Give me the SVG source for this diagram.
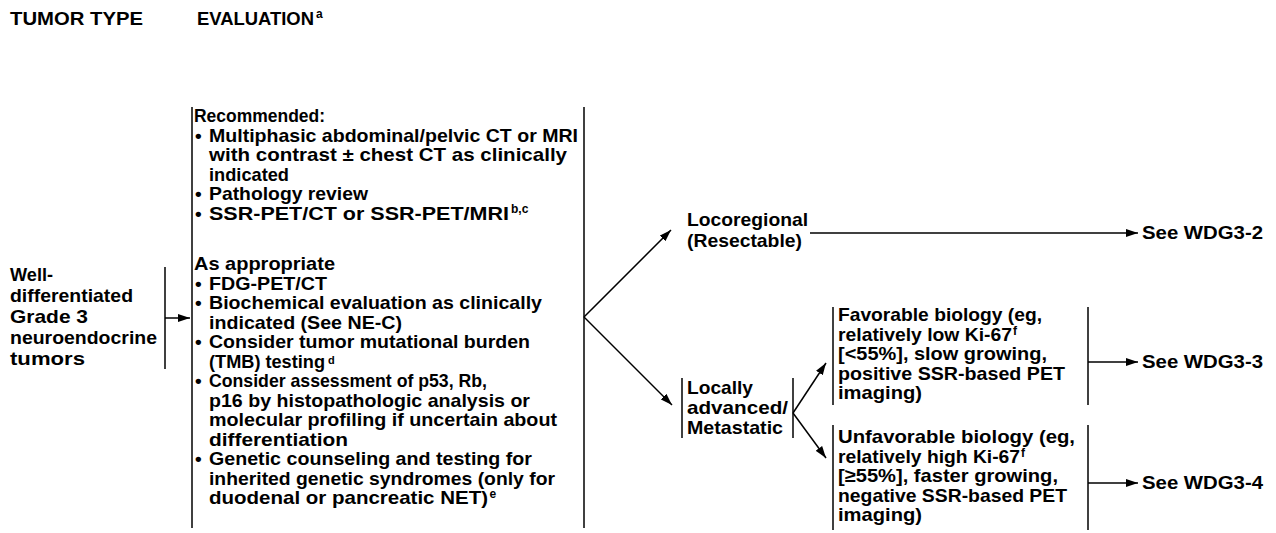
<svg xmlns="http://www.w3.org/2000/svg" width="1276" height="533" viewBox="0 0 1276 533">
<defs>
<marker id="ah" markerWidth="12" markerHeight="8" refX="12" refY="4" orient="auto" markerUnits="userSpaceOnUse">
<path d="M0,0 L12,4 L0,8 Z" fill="#000"/>
</marker>
<style>
text{font-family:"Liberation Sans",Arial,Helvetica,sans-serif;font-weight:bold;font-size:19px;fill:#000}
.hdr{font-size:18.5px}
.sup{font-size:12px}
.bar{stroke:#000;stroke-width:1.5;fill:none}
.con{stroke:#000;stroke-width:1.5;fill:none;marker-end:url(#ah)}
</style>
</defs>
<rect width="1276" height="533" fill="#fff"/>
<g id="headers">
<text class="hdr" x="10" y="25" textLength="133" lengthAdjust="spacingAndGlyphs">TUMOR TYPE</text>
<text class="hdr" x="197" y="25" textLength="117" lengthAdjust="spacingAndGlyphs">EVALUATION</text>
<text class="sup" x="316" y="18">a</text>
</g>
<g id="tumor">
<line class="bar" x1="165" y1="267" x2="165" y2="369"/>
<text x="10" y="281" textLength="43" lengthAdjust="spacingAndGlyphs">Well-</text>
<text x="10" y="302" textLength="123" lengthAdjust="spacingAndGlyphs">differentiated</text>
<text x="10" y="323" textLength="78" lengthAdjust="spacingAndGlyphs">Grade 3</text>
<text x="10" y="344" textLength="147" lengthAdjust="spacingAndGlyphs">neuroendocrine</text>
<text x="10" y="365" textLength="75" lengthAdjust="spacingAndGlyphs">tumors</text>
</g>
<g id="evaluation">
<line class="bar" x1="192" y1="107" x2="192" y2="528"/>
<line class="bar" x1="584" y1="107" x2="584" y2="528"/>
<text x="194" y="122" textLength="131" lengthAdjust="spacingAndGlyphs">Recommended:</text>
<text x="195" y="141.5">•</text><text x="209" y="141.5" textLength="369" lengthAdjust="spacingAndGlyphs">Multiphasic abdominal/pelvic CT or MRI</text>
<text x="209" y="161" textLength="358" lengthAdjust="spacingAndGlyphs">with contrast ± chest CT as clinically</text>
<text x="209" y="180.5" textLength="80" lengthAdjust="spacingAndGlyphs">indicated</text>
<text x="195" y="200">•</text><text x="209" y="200" textLength="159" lengthAdjust="spacingAndGlyphs">Pathology review</text>
<text x="195" y="219.5">•</text><text x="209" y="219.5" textLength="300" lengthAdjust="spacingAndGlyphs">SSR-PET/CT or SSR-PET/MRI</text>
<text class="sup" x="511" y="213">b,c</text>
<text x="194" y="270" textLength="141" lengthAdjust="spacingAndGlyphs">As appropriate</text>
<text x="195" y="289.5">•</text><text x="209" y="289.5" textLength="118" lengthAdjust="spacingAndGlyphs">FDG-PET/CT</text>
<text x="195" y="309">•</text><text x="209" y="309" textLength="333" lengthAdjust="spacingAndGlyphs">Biochemical evaluation as clinically</text>
<text x="209" y="328.5" textLength="193" lengthAdjust="spacingAndGlyphs">indicated (See NE-C)</text>
<text x="195" y="348">•</text><text x="209" y="348" textLength="321" lengthAdjust="spacingAndGlyphs">Consider tumor mutational burden</text>
<text x="209" y="367.5" textLength="116" lengthAdjust="spacingAndGlyphs">(TMB) testing</text>
<text class="sup" x="328" y="364" style="font-size:11px">d</text>
<text x="195" y="387">•</text><text x="209" y="387" textLength="278" lengthAdjust="spacingAndGlyphs">Consider assessment of p53, Rb,</text>
<text x="209" y="406.5" textLength="321" lengthAdjust="spacingAndGlyphs">p16 by histopathologic analysis or</text>
<text x="209" y="426" textLength="348" lengthAdjust="spacingAndGlyphs">molecular profiling if uncertain about</text>
<text x="209" y="445.5" textLength="139" lengthAdjust="spacingAndGlyphs">differentiation</text>
<text x="195" y="465">•</text><text x="209" y="465" textLength="323" lengthAdjust="spacingAndGlyphs">Genetic counseling and testing for</text>
<text x="209" y="484.5" textLength="346" lengthAdjust="spacingAndGlyphs">inherited genetic syndromes (only for</text>
<text x="209" y="504" textLength="279" lengthAdjust="spacingAndGlyphs">duodenal or pancreatic NET)</text>
<text class="sup" x="489.5" y="497.5">e</text>
</g>
<g id="locoregional">
<text x="687" y="226" textLength="121" lengthAdjust="spacingAndGlyphs">Locoregional</text>
<text x="687" y="247" textLength="115" lengthAdjust="spacingAndGlyphs">(Resectable)</text>
</g>
<g id="locally-advanced">
<line class="bar" x1="682" y1="378" x2="682" y2="438"/>
<line class="bar" x1="793" y1="378" x2="793" y2="438"/>
<text x="687" y="394" textLength="66" lengthAdjust="spacingAndGlyphs">Locally</text>
<text x="687" y="414" textLength="101" lengthAdjust="spacingAndGlyphs">advanced/</text>
<text x="687" y="434" textLength="96" lengthAdjust="spacingAndGlyphs">Metastatic</text>
</g>
<g id="favorable">
<line class="bar" x1="833" y1="307" x2="833" y2="405"/>
<line class="bar" x1="1088" y1="307" x2="1088" y2="405"/>
<text x="838" y="321" textLength="204" lengthAdjust="spacingAndGlyphs">Favorable biology (eg,</text>
<text x="838" y="340.5" textLength="174" lengthAdjust="spacingAndGlyphs">relatively low Ki-67</text>
<text class="sup" x="1013" y="334.5">f</text>
<text x="838" y="360" textLength="209" lengthAdjust="spacingAndGlyphs">[&lt;55%], slow growing,</text>
<text x="838" y="379.5" textLength="227" lengthAdjust="spacingAndGlyphs">positive SSR-based PET</text>
<text x="838" y="399" textLength="84" lengthAdjust="spacingAndGlyphs">imaging)</text>
</g>
<g id="unfavorable">
<line class="bar" x1="833" y1="425" x2="833" y2="530"/>
<line class="bar" x1="1088" y1="425" x2="1088" y2="530"/>
<text x="838" y="443" textLength="237" lengthAdjust="spacingAndGlyphs">Unfavorable biology (eg,</text>
<text x="838" y="462.5" textLength="182" lengthAdjust="spacingAndGlyphs">relatively high Ki-67</text>
<text class="sup" x="1021" y="456.5">f</text>
<text x="838" y="482" textLength="220" lengthAdjust="spacingAndGlyphs">[≥55%], faster growing,</text>
<text x="838" y="501.5" textLength="229" lengthAdjust="spacingAndGlyphs">negative SSR-based PET</text>
<text x="838" y="521" textLength="84" lengthAdjust="spacingAndGlyphs">imaging)</text>
</g>
<g id="wdg3-2"><text x="1142" y="239" textLength="121" lengthAdjust="spacingAndGlyphs">See WDG3-2</text></g>
<g id="wdg3-3"><text x="1142" y="368" textLength="121" lengthAdjust="spacingAndGlyphs">See WDG3-3</text></g>
<g id="wdg3-4"><text x="1142" y="489" textLength="121" lengthAdjust="spacingAndGlyphs">See WDG3-4</text></g>
<g id="connectors">
<line class="con" x1="165" y1="318" x2="190" y2="318"/>
<line class="con" x1="584" y1="317" x2="671" y2="230"/>
<line class="con" x1="584" y1="317" x2="672" y2="405"/>
<line class="con" x1="810" y1="233" x2="1138" y2="233"/>
<line class="con" x1="793" y1="413" x2="826" y2="363"/>
<line class="con" x1="793" y1="413" x2="826" y2="458"/>
<line class="con" x1="1088" y1="362" x2="1138" y2="362"/>
<line class="con" x1="1088" y1="483" x2="1138" y2="483"/>
</g>
</svg>
